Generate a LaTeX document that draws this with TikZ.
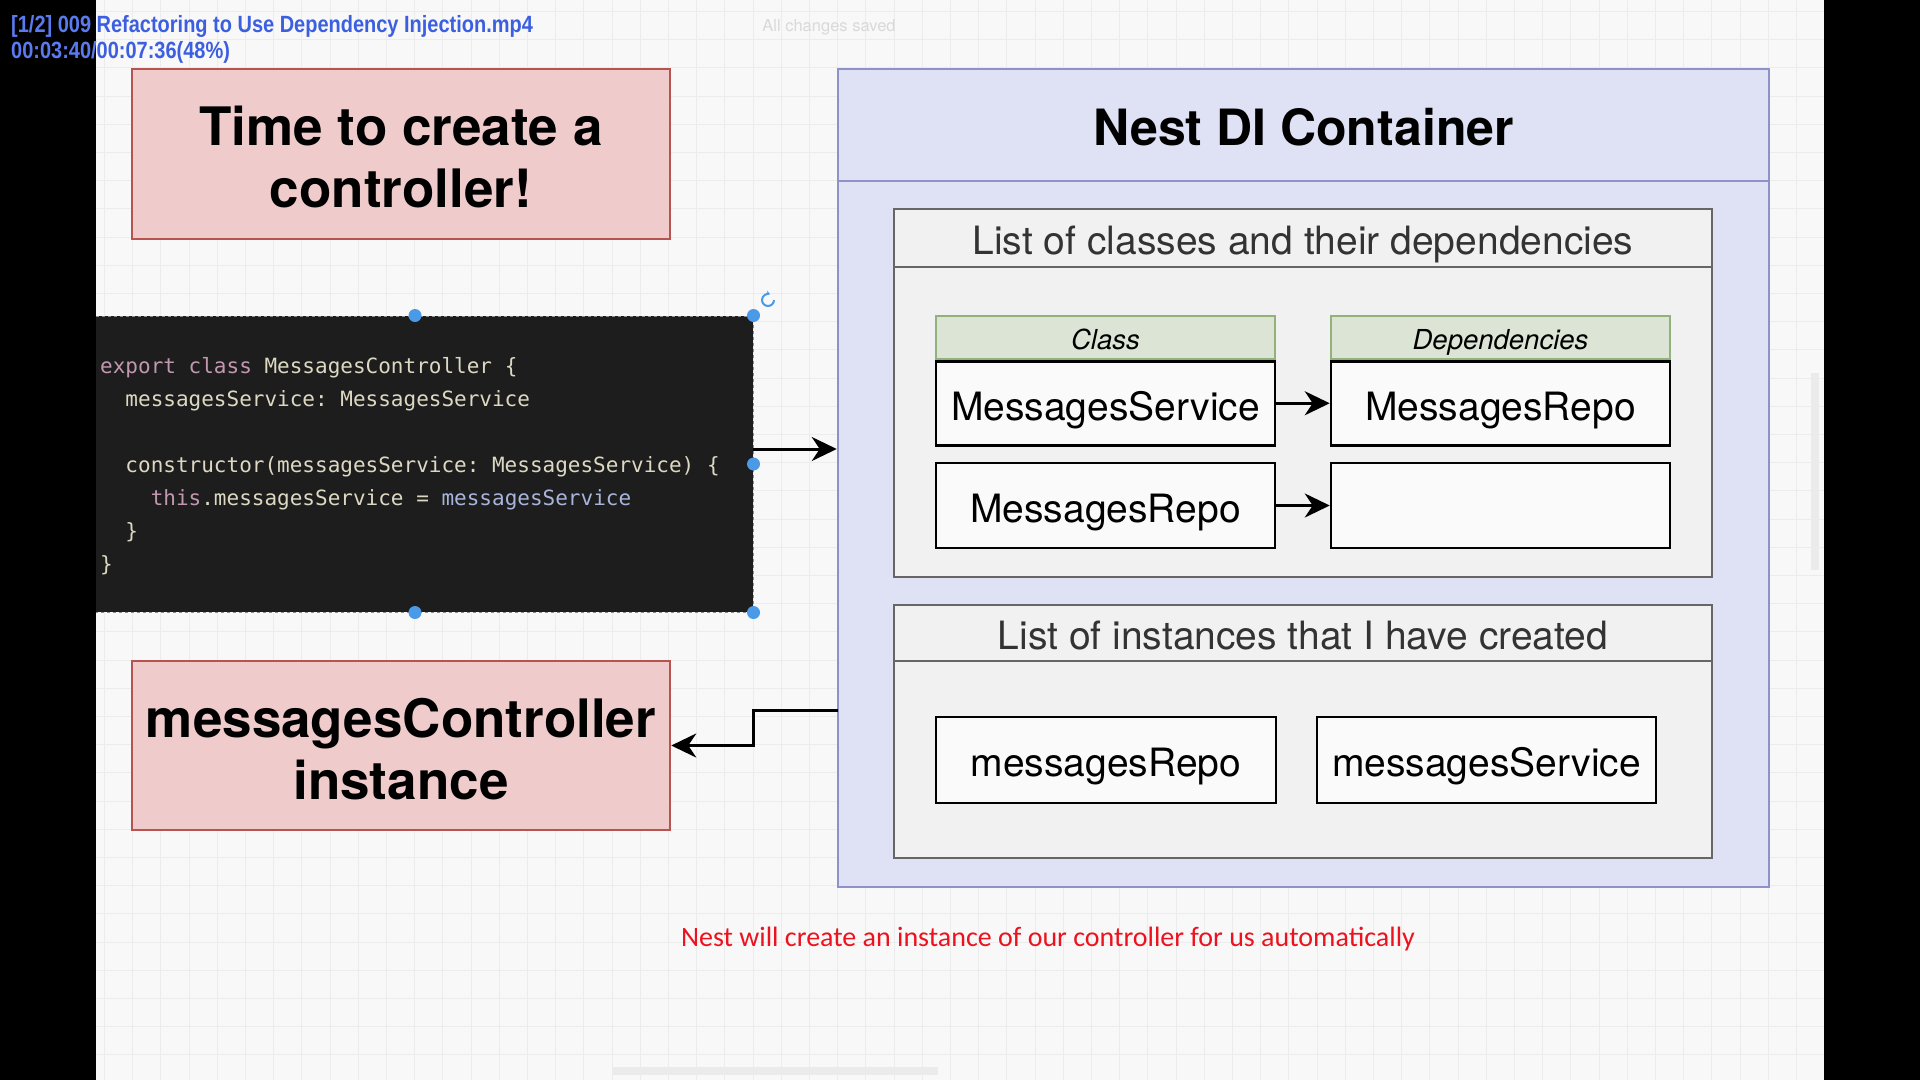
\documentclass[tikz,border=0pt]{standalone}
\usepackage{fontspec}
\setmainfont{TeX Gyre Heros}
\setmonofont{DejaVu Sans Mono}
\newfontfamily\notefont{Carlito}
\newfontfamily\osdfont[FakeStretch=0.85]{Liberation Sans Bold}
\usetikzlibrary{arrows.meta,positioning}

\definecolor{canvas}{HTML}{F8F8F8}
\definecolor{gridcol}{HTML}{ECECEC}
\definecolor{pinkfill}{HTML}{EFCBCB}
\definecolor{pinkline}{HTML}{B85450}
\definecolor{difill}{HTML}{DFE1F5}
\definecolor{diline}{HTML}{8E92C9}
\definecolor{listfill}{HTML}{F1F1F1}
\definecolor{listline}{HTML}{666666}
\definecolor{greenfill}{HTML}{DCE4D6}
\definecolor{greenline}{HTML}{93B27A}
\definecolor{codebg}{HTML}{1D1D1D}
\definecolor{codetxt}{HTML}{DCD8C2}
\definecolor{codekw}{HTML}{C298B0}
\definecolor{codevar}{HTML}{A9B4DC}
\definecolor{handlecol}{HTML}{4A9AE8}
\definecolor{osdblue}{HTML}{3C5FE0}
\definecolor{osdlight}{HTML}{5A7AF0}
\definecolor{uifaint}{HTML}{D9D9D9}
\definecolor{notered}{HTML}{EC121E}

\begin{document}
\begin{tikzpicture}[x=1pt,y=-1pt,
    pinkbox/.style={draw=pinkline, fill=pinkfill, line width=2.5pt, inner sep=0pt, align=center,
        minimum width=538, font=\fontsize{53}{62}\selectfont\bfseries},
    dibox/.style={draw=diline, fill=difill, line width=2.5pt, inner sep=0pt, minimum width=931,
        text height=44pt, text depth=3pt},
    listbox/.style={draw=listline, fill=listfill, line width=2.5pt, inner sep=0pt, minimum width=818,
        text=black!80, font=\fontsize{39}{44}\selectfont, text height=37pt, text depth=3.5pt},
    colhead/.style={draw=greenline, fill=greenfill, line width=2pt, inner sep=0pt, minimum width=339,
        minimum height=43, font=\fontsize{27.5}{30}\selectfont\itshape, text height=26pt, text depth=2.3pt},
    cell/.style={draw=black, fill=white!98!black, line width=2.5pt, inner sep=0pt, minimum width=339,
        minimum height=85, font=\fontsize{39}{44}\selectfont, text height=37pt, text depth=3.5pt},
    codeline/.style={anchor=base west, inner sep=0pt, text=codetxt, font=\ttfamily\fontsize{21}{33}\selectfont},
    conn/.style={line width=3pt, -{Stealth[length=25pt,width=24pt,inset=8pt]}},
    gridline/.style={draw=gridcol, line width=1pt},
    osd/.style={anchor=base west, inner sep=0pt, text=osdblue, font=\osdfont\fontsize{23.5}{27}\selectfont}]

    \useasboundingbox (0,0) rectangle (1920,1080);
    \fill[canvas] (0,0) rectangle (1920,1080);
    \foreach \i in {0,...,67}
        \draw[gridline] ({19.9+28.2*\i},0) -- ++(0,1080);
    \foreach \i in {0,...,38}
        \draw[gridline] (0,{11.4+28.2*\i}) -- ++(1920,0);

    \node[pinkbox, minimum height=170] (title) at (401,154) {\rule{0pt}{46pt}Time to create a\\controller!};
    \node[pinkbox, minimum height=169] (instance) at (401,745.5) {\rule{0pt}{47pt}messagesController\\instance};

    \node[draw=black!45, dashed, fill=codebg, line width=1pt, inner sep=0pt,
        minimum width=676, minimum height=296] (code) at (415,464) {};
    \foreach \y/\t [count=\i] in {
        373/{\textcolor{codekw}{export class} MessagesController \{},
        406/{\hphantom{xx}messagesService: MessagesService},
        472/{\hphantom{xx}constructor(messagesService: MessagesService) \{},
        505/{\hphantom{xxxx}\textcolor{codekw}{this}.messagesService = \textcolor{codevar}{messagesService}},
        538/{\hphantom{xx}\}},
        571/{\}}}
        \node[codeline] (cl\i) at (100,\y) {\t};
    \foreach \p in {north,north east,east,south,south east}
        \fill[handlecol] (code.\p) circle (6.5);
    \draw[handlecol, line width=2pt, -{Stealth[length=4pt,width=5pt]}] (774,300) arc (0:290:6);

    \node[dibox, minimum height=818] (dic) at (1303.5,478) {};
    \node[dibox, minimum height=112, font=\fontsize{50}{56}\selectfont\bfseries] (dihead) at (1303.5,125) {Nest DI Container};

    \node[listbox, minimum height=368] (clsbox) at (1303,393) {};
    \node[listbox, minimum height=58] (clshead) at (1303,238) {List of classes and their dependencies};
    \node[colhead] (clsh) at (1105.5,337.5) {Class};
    \node[colhead] (deph) at (1500.5,337.5) {Dependencies};
    \node[cell, minimum height=84, below=0pt of clsh] (cls1) {MessagesService};
    \node[cell, minimum height=84, below=0pt of deph] (dep1) {MessagesRepo};
    \node[cell] (cls2) at (1105.5,505.5) {MessagesRepo};
    \node[cell] (dep2) at (1500.5,505.5) {};
    \draw[conn] (cls1) -- (dep1);
    \draw[conn] (cls2) -- (dep2);

    \node[listbox, minimum height=253] (instbox) at (1303,731.5) {};
    \node[listbox, minimum height=56] (insthead) at (1303,633) {List of instances that I have created};
    \node[cell, minimum height=86, minimum width=340] (mrepo) at (1106,760) {messagesRepo};
    \node[cell, minimum height=86] (mserv) at (1486.5,760) {messagesService};

    \coordinate (codeout) at (753,449);
    \coordinate (diout) at (838,710);
    \draw[conn] (codeout) -- (codeout -| dic.west);
    \draw[conn] (diout) -- ++(-85,0) |- (instance.east);

    \node[text=notered, font=\notefont\fontsize{28}{32}\selectfont] (note) at (1048,939)
        {Nest will create an instance of our controller for us automatically};

    \fill[black!8] (1811,373) rectangle (1819,570);
    \fill[black!8] (612,1067) rectangle (938,1075);
    \node[text=uifaint, font=\fontsize{16.5}{20}\selectfont] (saved) at (829,27) {All changes saved};

    \fill[black] (0,0) rectangle (95.5,1080);
    \fill[black] (1824,0) rectangle (1920,1080);

    \node[osd] (osdtitle) at (11,32) {\textcolor{osdlight}{[1/2] 009} Refactoring to Use Dependency Injection.mp4};
    \node[osd] (osdtime) at (11,58) {\textcolor{osdlight}{00:03:40/}00:07:36(48\%)};

\end{tikzpicture}
\end{document}
